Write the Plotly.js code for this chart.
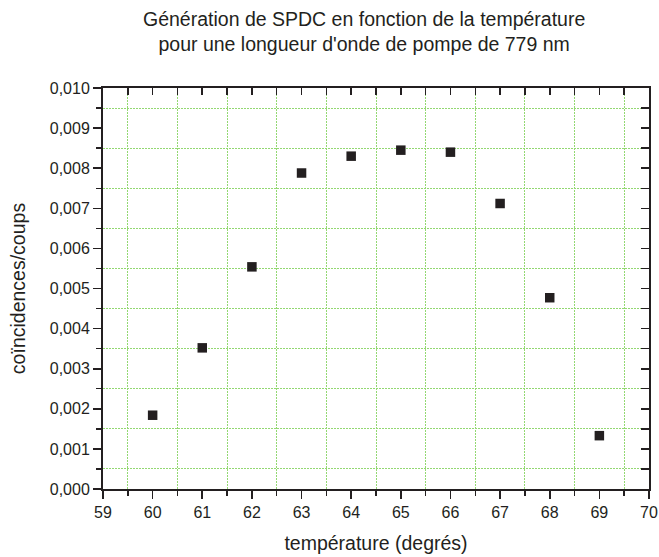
<!DOCTYPE html>
<html>
<head>
<meta charset="utf-8">
<script src="https://cdn.plot.ly/plotly-3.0.1.min.js"></script>
<style>html,body{margin:0;padding:0;background:#fff;}#chart{width:659px;height:557px;}</style>
</head>
<body>
<div id="chart"></div>
<script>
const temperatures = [60, 61, 62, 63, 64, 65, 66, 67, 68, 69];
const ratios = [0.00184, 0.00352, 0.00554, 0.00788, 0.00830, 0.00845, 0.00840, 0.00712, 0.00477, 0.00133];
const xTickValues = [59, 60, 61, 62, 63, 64, 65, 66, 67, 68, 69, 70];
const yTickValues = [0, 0.001, 0.002, 0.003, 0.004, 0.005, 0.006, 0.007, 0.008, 0.009, 0.010];
const chartTitle = 'Génération de SPDC en fonction de la température<br>pour une longueur d\'onde de pompe de 779 nm';

const ink = '#231f20';
const gridGreen = '#93d872';
const fontFam = '"Liberation Sans", Arial, Helvetica, sans-serif';

const traces = [
  {
    x: temperatures, y: ratios, type: 'scatter', mode: 'markers',
    marker: {symbol: 'square', size: 9.5, color: ink, line: {width: 0}},
    xaxis: 'x', yaxis: 'y', hoverinfo: 'skip'
  },
  {
    x: [null], y: [null], type: 'scatter', mode: 'markers',
    xaxis: 'x2', yaxis: 'y2', showlegend: false, hoverinfo: 'skip'
  }
];

const layout = {
  width: 659, height: 557,
  margin: {l: 103, r: 10, t: 88, b: 67.5, pad: 0},
  paper_bgcolor: '#fff', plot_bgcolor: '#fff',
  showlegend: false,
  separators: ', ',
  font: {family: fontFam, color: ink, size: 16},
  annotations: [{
    text: chartTitle, showarrow: false,
    xref: 'paper', x: (364 - 103) / 546, xanchor: 'center',
    yref: 'paper', y: 1 + (88 - 6) / 401.5, yanchor: 'top',
    align: 'center',
    font: {family: fontFam, size: 19.5, color: ink}
  }],
  xaxis: {
    range: [59, 70], tickvals: xTickValues, ticktext: xTickValues.map(String),
    showgrid: false, zeroline: false,
    showline: true, linecolor: ink, linewidth: 2,
    ticks: 'outside', ticklen: 8, tickwidth: 1.6, tickcolor: ink,
    tickfont: {size: 16, color: ink, family: fontFam},
    minor: {dtick: 1, tick0: 59.5, ticks: 'outside', ticklen: 5, tickwidth: 1.4, tickcolor: ink,
            showgrid: true, gridcolor: gridGreen, griddash: '2px,1px', gridwidth: 1},
    title: {text: 'température (degrés)', font: {size: 19.5, color: ink, family: fontFam}, standoff: 16}
  },
  yaxis: {
    range: [0, 0.010], tickvals: yTickValues, tickformat: '.3f',
    showgrid: false, zeroline: false,
    showline: true, linecolor: ink, linewidth: 2,
    ticks: 'outside', ticklen: 8, tickwidth: 1.6, tickcolor: ink,
    tickfont: {size: 16, color: ink, family: fontFam},
    minor: {dtick: 0.001, tick0: 0.0005, ticks: 'outside', ticklen: 5, tickwidth: 1.4, tickcolor: ink,
            showgrid: true, gridcolor: gridGreen, griddash: '2px,1px', gridwidth: 1},
    title: {text: 'coïncidences/coups', font: {size: 19.5, color: ink, family: fontFam}, standoff: 19}
  },
  xaxis2: {
    overlaying: 'x', side: 'top', range: [59, 70], tickvals: xTickValues,
    showticklabels: false, showgrid: false, zeroline: false,
    showline: true, linecolor: ink, linewidth: 2,
    ticks: 'inside', ticklen: 7, tickwidth: 1.6, tickcolor: ink,
    minor: {dtick: 1, tick0: 59.5, ticks: 'inside', ticklen: 7, tickwidth: 1.4, tickcolor: ink, showgrid: false}
  },
  yaxis2: {
    overlaying: 'y', side: 'right', range: [0, 0.010], tickvals: yTickValues,
    showticklabels: false, showgrid: false, zeroline: false,
    showline: true, linecolor: ink, linewidth: 2,
    ticks: 'inside', ticklen: 8, tickwidth: 1.6, tickcolor: ink,
    minor: {dtick: 0.001, tick0: 0.0005, ticks: 'inside', ticklen: 8, tickwidth: 1.4, tickcolor: ink, showgrid: false}
  }
};

Plotly.newPlot('chart', traces, layout, {displayModeBar: false, staticPlot: true});
</script>
</body>
</html>
